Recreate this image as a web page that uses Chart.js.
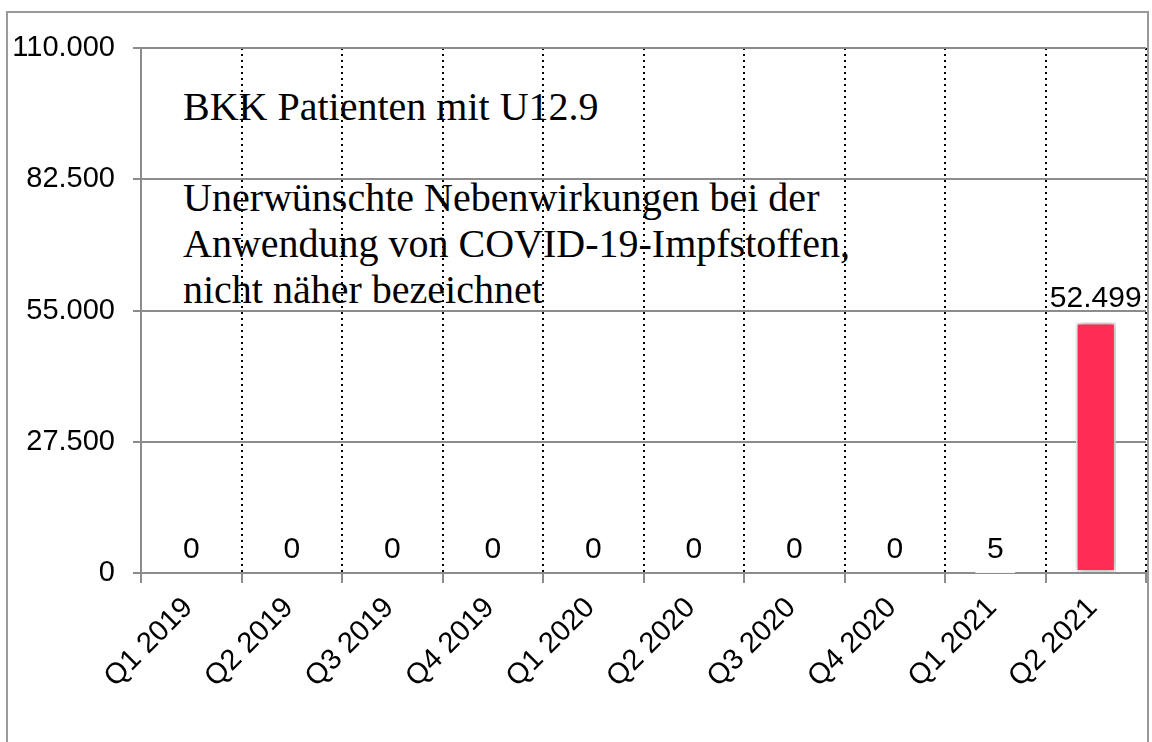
<!DOCTYPE html>
<html>
<head>
<meta charset="utf-8">
<script src="https://cdn.jsdelivr.net/npm/chart.js@4.4.1/dist/chart.umd.min.js"></script>
<style>
  html, body { margin: 0; padding: 0; background: #fff; }
  body { width: 1152px; height: 742px; overflow: hidden; position: relative; }
  #frame { position: absolute; left: 6px; top: 11px; width: 1139px; height: 800px; border: 2px solid #9a9a9a; }
  #note { position: absolute; left: 183px; top: 84px; font: 40px/45.7px "Liberation Serif", "Times New Roman", serif; color: #000; white-space: pre; }
  #wrap { position: absolute; left: 0; top: 0; width: 1152px; height: 742px; }
</style>
</head>
<body>
<div id="frame"></div>
<div id="note">BKK Patienten mit U12.9

Unerwünschte Nebenwirkungen bei der
Anwendung von COVID-19-Impfstoffen,
nicht näher bezeichnet</div>
<div id="wrap"><canvas id="chart" width="1152" height="742"></canvas></div>
<script>
const quarters = ['Q1 2019', 'Q2 2019', 'Q3 2019', 'Q4 2019', 'Q1 2020', 'Q2 2020', 'Q3 2020', 'Q4 2020', 'Q1 2021', 'Q2 2021'];
const patients = [0, 0, 0, 0, 0, 0, 0, 0, 5, 52499];
const yTicks = [0, 27500, 55000, 82500, 110000];

const family = '"Liberation Sans", Arial, sans-serif';
const tickFont = { family, size: 29 };
const gridGray = '#8c8c8c';

// 52499 -> "52.499"
const fmt = (n) => String(n).replace(/\B(?=(\d{3})+(?!\d))/g, '.');

// soft grey shadow round the bars
const barShadow = {
  id: 'barShadow',
  beforeDatasetDraw(chart) {
    const ctx = chart.ctx;
    ctx.save();
    ctx.shadowColor = 'rgba(0, 0, 0, 0.4)';
    ctx.shadowBlur = 7;
    ctx.shadowOffsetX = 1;
    ctx.shadowOffsetY = 0;
  },
  afterDatasetDraw(chart) {
    chart.ctx.restore();
  },
};

const valueLabels = {
  id: 'valueLabels',
  afterDraw(chart) {
    const ctx = chart.ctx;
    const meta = chart.getDatasetMeta(0);
    ctx.save();
    ctx.font = `30px ${family}`;
    ctx.fillStyle = '#000';
    ctx.textAlign = 'center';
    ctx.textBaseline = 'alphabetic';
    meta.data.forEach((bar, i) => {
      ctx.fillText(fmt(patients[i]), bar.x, bar.y - 15);
    });
    ctx.restore();
  },
};

new Chart(document.getElementById('chart').getContext('2d'), {
  type: 'bar',
  data: {
    labels: quarters,
    datasets: [{
      data: patients,
      backgroundColor: '#ff2d55',
      borderColor: '#f6f6f6',
      borderWidth: 2,
      borderSkipped: false,
      barPercentage: 0.4,
      categoryPercentage: 1,
    }],
  },
  options: {
    responsive: false,
    animation: false,
    layout: { padding: { top: 48, right: 6, bottom: 0, left: 0 } },
    plugins: { legend: { display: false }, tooltip: { enabled: false } },
    scales: {
      x: {
        grid: {
          offset: true,
          color: '#000',
          lineWidth: 2,
          tickColor: gridGray,
          tickWidth: 2,
          tickBorderDash: [],
          tickLength: 10,
        },
        // in v4 the dash of the grid lines sits under border
        border: { display: true, color: gridGray, width: 2, dash: [2, 4] },
        ticks: { font: tickFont, color: '#000', minRotation: 45, maxRotation: 45, padding: 8, labelOffset: -3 },
        afterFit(scale) { scale.height = 169; },
      },
      y: {
        min: 0,
        max: 110000,
        afterBuildTicks(scale) { scale.ticks = yTicks.map((v) => ({ value: v })); },
        grid: { color: gridGray, lineWidth: 2, tickLength: 8 },
        border: { display: true, color: gridGray, width: 2 },
        ticks: { font: tickFont, color: '#000', padding: 18, callback: (v) => fmt(v) },
        afterFit(scale) { scale.width = 141; },
      },
    },
  },
  plugins: [barShadow, valueLabels],
});
</script>
</body>
</html>
